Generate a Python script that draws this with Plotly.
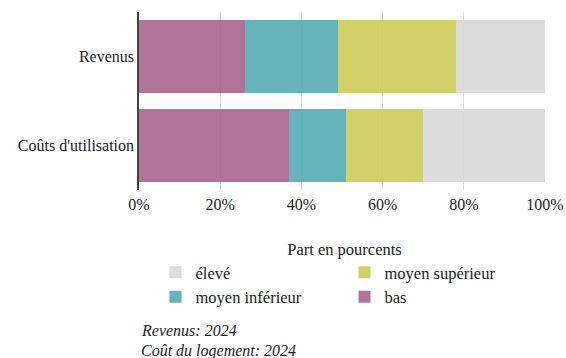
import plotly.graph_objects as go

categories = ["Revenus", "Coûts d'utilisation"]
series_names = ["bas", "moyen inférieur", "moyen supérieur", "élevé"]
bas = [26, 37]
moyen_inferieur = [23, 14]
moyen_superieur = [29, 19]
eleve = [22, 30]
tick_vals = [0, 20, 40, 60, 80, 100]
tick_labels = ["0%", "20%", "40%", "60%", "80%", "100%"]
notes = ["Revenus: 2024", "Coût du logement: 2024"]

values = [bas, moyen_inferieur, moyen_superieur, eleve]
colors = ["rgb(167,101,141)", "rgb(85,172,179)", "rgb(205,204,89)", "rgb(217,217,217)"]

FONT = "Liberation Serif, Times New Roman, serif"

fig = go.Figure()
for name, vals, col in zip(series_names, values, colors):
    fig.add_trace(go.Bar(
        y=categories, x=vals, name=name, orientation="h",
        marker=dict(color=col, line=dict(width=0)), opacity=0.9,
    ))

fig.update_layout(
    width=566, height=358,
    barmode="stack", bargap=0.19,
    margin=dict(l=139, r=21, t=12, b=168, autoexpand=False),
    plot_bgcolor="white", paper_bgcolor="white",
    font=dict(family=FONT, size=16, color="#222"),
    xaxis=dict(range=[0, 100], tickvals=tick_vals, ticktext=tick_labels,
               showgrid=True, gridcolor="#dedede", gridwidth=1,
               zeroline=False, showline=False, ticks="", automargin=False,
               ticklabelstandoff=3,
               tickfont=dict(family=FONT, size=16, color="#222")),
    yaxis=dict(autorange="reversed", showline=True, linecolor="#444", linewidth=1.5,
               ticks="", showgrid=False, automargin=False,
               tickfont=dict(family=FONT, size=16, color="#222")),
    legend=dict(orientation="h", x=0.5 + 2.5 / 406, xanchor="center", y=-0.245, yanchor="top",
                traceorder="reversed", entrywidth=144, tracegroupgap=0,
                title=dict(text="Part en pourcents", side="top center",
                           font=dict(family=FONT, size=16.5, color="#222")),
                font=dict(family=FONT, size=16.5, color="#222")),
    showlegend=True,
)

for i, t in enumerate(notes):
    fig.add_annotation(text="<i>%s</i>" % t, xref="paper", yref="paper",
                       x=0, xanchor="left", y=(190 - 330) / 178 - i * 21 / 178,
                       yanchor="middle", showarrow=False,
                       font=dict(family=FONT, size=16, color="#222"))

fig.write_html("out.html")
